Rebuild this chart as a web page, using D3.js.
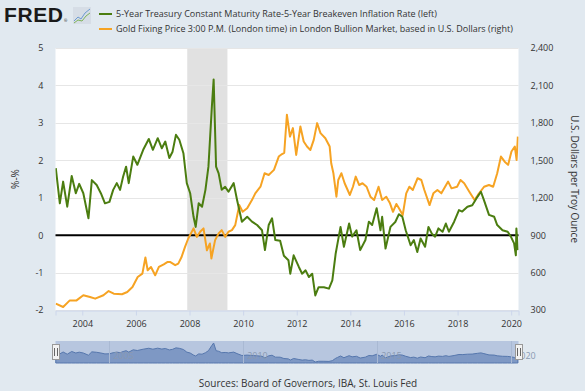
<!DOCTYPE html>
<html>
<head>
<meta charset="utf-8">
<script src="https://cdn.jsdelivr.net/npm/d3@7"></script>
<style>
  body { margin: 0; background: #e1e9f0; }
  svg { display: block; font-family: "Open Sans", sans-serif; }
</style>
</head>
<body>
<div id="chart"></div>
<script>
// 5-Year Treasury minus 5-Year breakeven (left axis)
var rateDates = ['2003-01-05','2003-03-01','2003-04-15','2003-06-10','2003-08-10','2003-10-05','2003-11-20','2004-01-15','2004-03-25','2004-05-10',
  '2004-07-15','2004-09-10','2004-11-05','2005-01-05','2005-02-25','2005-04-15','2005-05-30','2005-07-10','2005-08-20','2005-09-25',
  '2005-11-25','2006-01-20','2006-04-10','2006-06-25','2006-08-20','2006-10-25','2006-12-20','2007-02-05','2007-04-01','2007-05-15',
  '2007-06-30','2007-08-15','2007-10-10','2007-11-25','2008-01-10','2008-02-25','2008-03-25','2008-05-05','2008-06-20','2008-08-05',
  '2008-09-15','2008-11-01','2008-11-25','2008-12-28','2009-02-01','2009-03-15','2009-05-01','2009-06-15','2009-08-25','2009-10-10',
  '2009-12-15','2010-02-25','2010-05-01','2010-07-10','2010-09-15','2010-10-25','2010-12-15','2011-01-30','2011-03-15','2011-05-20',
  '2011-07-10','2011-09-10','2011-10-05','2011-11-20','2012-01-30','2012-03-15','2012-05-01','2012-06-15','2012-07-30','2012-09-10',
  '2012-10-25','2013-01-05','2013-03-15','2013-04-30','2013-06-15','2013-07-10','2013-08-20','2013-10-05','2013-12-15','2014-01-25',
  '2014-03-25','2014-05-15','2014-07-25','2014-09-10','2014-10-25','2014-12-25','2015-02-15','2015-03-10','2015-04-25','2015-07-01',
  '2015-09-05','2015-10-25','2015-12-10','2016-01-25','2016-04-01','2016-05-15','2016-07-01','2016-08-15','2016-10-15','2016-11-30',
  '2017-01-15','2017-03-01','2017-04-15','2017-06-10','2017-07-25','2017-09-05','2017-11-15','2018-01-20','2018-03-05','2018-05-15',
  '2018-07-20','2018-10-01','2018-11-15','2018-12-25','2019-03-05','2019-05-15','2019-06-25','2019-09-05','2019-11-15','2019-12-28',
  '2020-02-10','2020-03-05','2020-03-12','2020-04-01'];
var rateValues = [1.79,0.85,1.43,0.76,1.58,1.12,1.37,1.12,0.45,1.47,
  1.34,1.12,0.85,0.89,1.21,1.39,1.21,1.56,1.83,1.39,
  2.10,1.88,2.28,2.57,2.28,2.59,2.32,2.50,2.06,2.23,
  2.68,2.55,2.19,1.39,1.12,0.49,0.22,0.85,0.76,1.21,
  1.83,3.44,4.16,1.83,1.65,1.21,1.29,1.16,1.39,0.94,
  0.36,0.49,0.36,0.27,0.13,-0.40,0.27,0.45,-0.13,-0.15,
  -0.55,-0.67,-1.03,-0.54,-0.85,-1.03,-0.94,-1.12,-1.03,-1.61,
  -1.39,-1.39,-1.43,-1.21,-0.49,-0.22,0.22,-0.31,0.31,-0.04,
  0.13,-0.40,-0.13,0.36,0.27,0.72,0.13,0.49,-0.36,0.22,
  0.35,0.56,0.49,0.13,-0.27,-0.13,-0.45,-0.09,-0.31,0.22,
  0.04,-0.04,0.18,0.09,0.31,0.09,0.36,0.67,0.63,0.76,
  0.80,1.03,1.16,0.94,0.54,0.49,0.27,0.13,0.09,-0.04,
  -0.22,-0.54,0.18,-0.40];

// Gold fixing price, USD per troy ounce (right axis)
var goldDates = ['2003-01-05','2003-04-15','2003-07-15','2003-10-15','2004-01-15','2004-04-15','2004-06-25','2004-10-15','2004-12-25','2005-03-05',
  '2005-06-25','2005-09-05','2005-11-15','2006-01-25','2006-03-30','2006-05-10','2006-06-10','2006-07-25','2006-09-20','2006-11-10',
  '2007-01-15','2007-03-10','2007-04-10','2007-06-20','2007-08-01','2007-09-15','2007-11-01','2007-12-15','2008-02-25','2008-04-10',
  '2008-05-25','2008-07-10','2008-08-25','2008-10-05','2008-10-25','2008-12-15','2009-02-01','2009-03-15','2009-05-01','2009-06-15',
  '2009-08-01','2009-09-15','2009-11-10','2009-12-25','2010-02-25','2010-05-01','2010-06-15','2010-08-25','2010-10-20','2010-12-15',
  '2011-02-25','2011-05-01','2011-06-15','2011-07-15','2011-08-20','2011-10-01','2011-11-10','2011-12-25','2012-02-20','2012-04-05',
  '2012-05-20','2012-07-05','2012-08-20','2012-10-05','2012-11-20','2013-01-25','2013-03-25','2013-04-15','2013-05-15','2013-06-25',
  '2013-07-20','2013-09-01','2013-10-15','2013-12-25','2014-02-05','2014-03-15','2014-04-30','2014-06-15','2014-08-10','2014-10-01',
  '2014-11-20','2015-01-20','2015-03-10','2015-05-05','2015-06-25','2015-08-05','2015-09-20','2015-10-25','2015-12-15','2016-02-01',
  '2016-03-15','2016-05-01','2016-07-05','2016-08-25','2016-10-05','2016-12-15','2017-02-05','2017-04-01','2017-05-25','2017-08-25',
  '2017-10-10','2017-12-25','2018-02-10','2018-04-01','2018-06-10','2018-08-20','2018-10-05','2018-12-28','2019-03-05','2019-05-01',
  '2019-06-25','2019-08-15','2019-10-05','2019-11-20','2020-01-05','2020-02-20','2020-03-15','2020-04-01'];
var goldValues = [351,324,377,377,418,404,391,418,452,431,
  426,444,484,565,592,721,619,645,578,645,
  665,685,685,659,672,725,806,873,954,886,
  927,954,779,833,713,860,914,940,886,927,
  940,980,1141,1087,1115,1181,1235,1288,1396,1382,
  1423,1530,1550,1560,1865,1690,1758,1543,1771,1650,
  1610,1583,1664,1798,1718,1677,1610,1476,1396,1208,
  1342,1396,1316,1222,1288,1369,1302,1316,1288,1208,
  1181,1288,1181,1208,1155,1087,1150,1115,1061,1235,
  1288,1262,1356,1342,1262,1141,1235,1262,1235,1329,
  1275,1288,1342,1316,1248,1181,1222,1288,1302,1288,
  1396,1530,1489,1463,1570,1610,1503,1690];

var recession = ['2007-12-01', '2009-06-01'];
var leftTicks = [-2, -1, 0, 1, 2, 3, 4, 5];
var rightTicks = [300, 600, 900, 1200, 1500, 1800, 2100, 2400];
var yearTicks = [2004, 2006, 2008, 2010, 2012, 2014, 2016, 2018, 2020];
var navYears = [2005, 2010, 2015, 2020];

var parse = d3.timeParse('%Y-%m-%d');
var rateData = rateDates.map(function(d, i) { return {date: parse(d), value: rateValues[i]}; });
var goldData = goldDates.map(function(d, i) { return {date: parse(d), value: goldValues[i]}; });

var width = 585, height = 391;
var plotLeft = 55.5, plotRight = 518.5, plotTop = 48, plotBottom = 310;

var svg = d3.select('#chart').append('svg')
            .attr('width', width)
            .attr('height', height);

svg.append('rect')
   .attr('width', width)
   .attr('height', height)
   .attr('fill', '#e1e9f0');

var x = d3.scaleTime()
          .domain([new Date(2003, 0, 1), new Date(2020, 3, 10)])
          .range([plotLeft, plotRight]);
var yLeft = d3.scaleLinear().domain([-2, 5]).range([plotBottom, plotTop]);
var yRight = d3.scaleLinear().domain([300, 2400]).range([plotBottom, plotTop]);

svg.append('clipPath')
   .attr('id', 'plotClip')
   .append('rect')
   .attr('x', plotLeft).attr('y', plotTop)
   .attr('width', plotRight - plotLeft).attr('height', plotBottom - plotTop);

svg.append('rect')
   .attr('x', plotLeft).attr('y', plotTop)
   .attr('width', plotRight - plotLeft).attr('height', plotBottom - plotTop)
   .attr('fill', '#ffffff');

// recession shading
svg.append('rect')
   .attr('x', x(parse(recession[0])))
   .attr('y', plotTop)
   .attr('width', x(parse(recession[1])) - x(parse(recession[0])))
   .attr('height', plotBottom - plotTop)
   .attr('fill', '#e1e1e1');

// grid
svg.append('g').selectAll('line')
   .data(leftTicks).enter()
   .append('line')
   .attr('x1', plotLeft).attr('x2', plotRight)
   .attr('y1', function(d) { return Math.round(yLeft(d)) + 0.5; })
   .attr('y2', function(d) { return Math.round(yLeft(d)) + 0.5; })
   .attr('stroke', '#e6e6e6')
   .attr('stroke-width', 1);

// x axis
var xAxis = d3.axisBottom(x)
              .tickValues(yearTicks.map(function(y) { return new Date(y, 0, 1); }))
              .tickFormat(d3.timeFormat('%Y'))
              .tickSize(5)
              .tickPadding(5);
var gx = svg.append('g')
            .attr('transform', 'translate(0,' + (plotBottom + 0.5) + ')')
            .call(xAxis);
gx.select('.domain').attr('stroke', '#ccd6eb');
gx.selectAll('.tick line').attr('stroke', '#ccd6eb');
gx.selectAll('.tick text')
  .attr('fill', '#333')
  .style('font-size', '9px')
  .style('font-family', '"Open Sans", sans-serif');

// left axis labels
var gl = svg.append('g')
            .attr('transform', 'translate(' + (plotLeft - 12) + ',0)')
            .call(d3.axisLeft(yLeft).tickValues(leftTicks).tickSize(0).tickPadding(0)
                    .tickFormat(function(d) { return String(d); }));
gl.select('.domain').remove();
gl.selectAll('.tick text')
  .attr('fill', '#333')
  .style('font-size', '9px')
  .style('font-family', '"Open Sans", sans-serif');

// right axis labels
var gr = svg.append('g')
            .attr('transform', 'translate(' + (plotRight + 12) + ',0)')
            .call(d3.axisRight(yRight).tickValues(rightTicks).tickSize(0).tickPadding(0).tickFormat(d3.format(',')));
gr.select('.domain').remove();
gr.selectAll('.tick text')
  .attr('fill', '#333')
  .style('font-size', '9px')
  .style('font-family', '"Open Sans", sans-serif');

svg.append('text')
   .attr('transform', 'translate(15,' + ((plotTop + plotBottom) / 2) + ') rotate(-90)')
   .attr('text-anchor', 'middle')
   .attr('dy', '0.35em')
   .attr('fill', '#333')
   .style('font-size', '10px')
   .text('%-%');

svg.append('text')
   .attr('transform', 'translate(574,' + ((plotTop + plotBottom) / 2) + ') rotate(90)')
   .attr('text-anchor', 'middle')
   .attr('dy', '0.35em')
   .attr('fill', '#333')
   .style('font-size', '10px')
   .text('U.S. Dollars per Troy Ounce');

// zero line
svg.append('line')
   .attr('x1', plotLeft).attr('x2', plotRight)
   .attr('y1', yLeft(0)).attr('y2', yLeft(0))
   .attr('stroke', '#000')
   .attr('stroke-width', 2);

var goldLine = d3.line()
                 .x(function(d) { return x(d.date); })
                 .y(function(d) { return yRight(d.value); });
var rateLine = d3.line()
                 .x(function(d) { return x(d.date); })
                 .y(function(d) { return yLeft(d.value); });

svg.append('path')
   .datum(goldData)
   .attr('clip-path', 'url(#plotClip)')
   .attr('d', goldLine)
   .attr('fill', 'none')
   .attr('stroke', '#f6a323')
   .attr('stroke-width', 2)
   .attr('stroke-linejoin', 'round');

svg.append('path')
   .datum(rateData)
   .attr('clip-path', 'url(#plotClip)')
   .attr('d', rateLine)
   .attr('fill', 'none')
   .attr('stroke', '#4b7d10')
   .attr('stroke-width', 2)
   .attr('stroke-linejoin', 'round');

// navigator
var navTop = 341, navBottom = 363;
var navY = d3.scaleLinear().domain(d3.extent(rateValues)).range([navBottom - 1, navTop + 2]);

svg.append('rect')
   .attr('x', plotLeft).attr('y', navTop)
   .attr('width', plotRight - plotLeft).attr('height', navBottom - navTop)
   .attr('fill', '#b7c6df');

svg.append('path')
   .datum(rateData)
   .attr('d', d3.area()
                .x(function(d) { return x(d.date); })
                .y0(navBottom)
                .y1(function(d) { return navY(d.value); }))
   .attr('fill', '#7e98c4')
   .attr('stroke', '#5677ad')
   .attr('stroke-width', 1);

svg.append('g').selectAll('line')
   .data(navYears).enter()
   .append('line')
   .attr('x1', function(d) { return Math.round(x(new Date(d, 0, 1))) + 0.5; })
   .attr('x2', function(d) { return Math.round(x(new Date(d, 0, 1))) + 0.5; })
   .attr('y1', navTop).attr('y2', navBottom)
   .attr('stroke', '#a9b9d3')
   .attr('stroke-width', 1);

svg.append('g').selectAll('text')
   .data(navYears).enter()
   .append('text')
   .attr('x', function(d) { return x(new Date(d, 0, 1)) + 4; })
   .attr('y', 359)
   .attr('fill', '#8a99b0')
   .style('font-size', '9px')
   .text(function(d) { return d; });

var handles = svg.append('g').selectAll('g')
                 .data([plotLeft, plotRight]).enter()
                 .append('g')
                 .attr('transform', function(d) { return 'translate(' + Math.round(d) + ',352)'; });
handles.append('rect')
       .attr('x', -3.5).attr('y', -7.5)
       .attr('width', 7).attr('height', 15)
       .attr('fill', '#f2f2f2')
       .attr('stroke', '#999')
       .attr('stroke-width', 1);
handles.append('path')
       .attr('d', 'M-1.5,-4V4M1.5,-4V4')
       .attr('stroke', '#666')
       .attr('stroke-width', 1);

svg.append('text')
   .attr('x', 308)
   .attr('y', 387)
   .attr('text-anchor', 'middle')
   .attr('fill', '#333')
   .style('font-size', '10px')
   .text('Sources: Board of Governors, IBA, St. Louis Fed');

// header: logo + legend
svg.append('text')
   .attr('x', 4)
   .attr('y', 22)
   .attr('fill', '#1a1a1a')
   .style('font-family', '"Liberation Sans", Arial, sans-serif')
   .style('font-weight', 'bold')
   .style('font-size', '21px')
   .style('letter-spacing', '0.6px')
   .text('FRED');
svg.append('text')
   .attr('x', 64)
   .attr('y', 22)
   .attr('fill', '#1a1a1a')
   .style('font-size', '4px')
   .text('®');

svg.append('rect')
   .attr('x', 73).attr('y', 7)
   .attr('width', 18).attr('height', 17)
   .attr('fill', '#d6dde6');
svg.append('path')
   .attr('d', 'M74,21L78,17L81,19L85,13L90,9')
   .attr('fill', 'none')
   .attr('stroke', '#6d9bd1')
   .attr('stroke-width', 1);
svg.append('path')
   .attr('d', 'M74,23L78,20L82,21L86,16L90,13')
   .attr('fill', 'none')
   .attr('stroke', '#7fb35a')
   .attr('stroke-width', 1);

var legendItems = [
  {label: '5-Year Treasury Constant Maturity Rate-5-Year Breakeven Inflation Rate (left)', color: '#4b7d10', y: 14},
  {label: 'Gold Fixing Price 3:00 P.M. (London time) in London Bullion Market, based in U.S. Dollars (right)', color: '#f6a323', y: 29}
];
var legend = svg.append('g').selectAll('g')
                .data(legendItems).enter()
                .append('g');
legend.append('line')
      .attr('x1', 99).attr('x2', 112)
      .attr('y1', function(d) { return d.y; })
      .attr('y2', function(d) { return d.y; })
      .attr('stroke', function(d) { return d.color; })
      .attr('stroke-width', 2);
legend.append('text')
      .attr('x', 116)
      .attr('y', function(d) { return d.y; })
      .attr('dy', '0.35em')
      .attr('fill', '#333')
      .style('font-size', '9px')
      .text(function(d) { return d.label; });
</script>
</body>
</html>
